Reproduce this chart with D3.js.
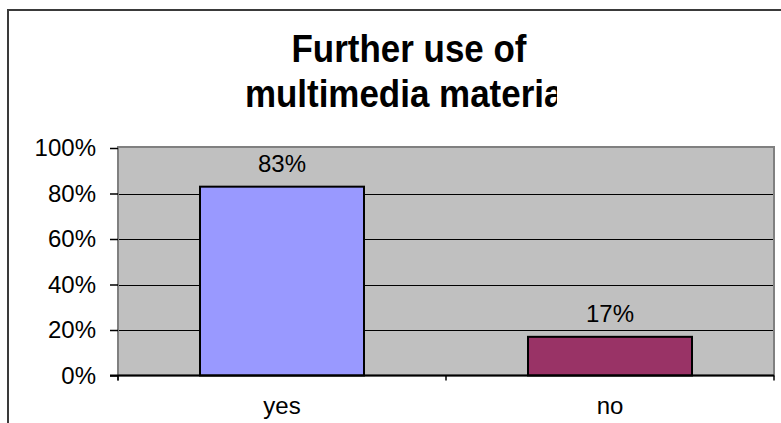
<!DOCTYPE html>
<html>
<head>
<meta charset="utf-8">
<script src="https://cdn.jsdelivr.net/npm/d3@7"></script>
<style>
  html, body { margin: 0; padding: 0; background: #fff; }
  svg { display: block; }
  text { font-family: "Liberation Sans", Arial, sans-serif; }
</style>
</head>
<body>
<svg id="chart" width="781" height="423"></svg>
<script>
// Survey answers: share of respondents per answer
const categories = ["yes", "no"];
const shares = [0.83, 0.17];
const barColors = ["#9999FF", "#993366"];
const yTicks = [0, 0.2, 0.4, 0.6, 0.8, 1.0];
const titleLines = ["Further use of", "multimedia material"];

const svg = d3.select("#chart");

// Chart frame (continues past the right and bottom edges)
svg.append("rect")
  .attr("x", 8).attr("y", 10)
  .attr("width", 820).attr("height", 440)
  .attr("fill", "#fff")
  .attr("stroke", "#3a3a3a")
  .attr("stroke-width", 2);

// Plot area bounds
const plot = { left: 118, right: 774, top: 148, bottom: 375.5 };

const x = d3.scaleBand()
  .domain(categories)
  .range([plot.left, plot.right])
  .paddingInner(0.5)
  .paddingOuter(0.25);

const y = d3.scaleLinear()
  .domain([0, 1])
  .range([plot.bottom, plot.top]);

// Title, clipped to its box; glyphs slightly narrowed
const titleCx = 409, squeeze = 0.92;
svg.append("clipPath").attr("id", "titleClip")
  .append("rect").attr("x", 150).attr("y", 20).attr("width", 407).attr("height", 110);

const title = svg.append("g")
  .attr("clip-path", "url(#titleClip)")
  .append("text")
  .attr("transform", `translate(${titleCx},0) scale(${squeeze},1)`)
  .attr("text-anchor", "middle")
  .attr("font-weight", "bold")
  .attr("font-size", 38)
  .attr("fill", "#000");
title.selectAll("tspan")
  .data(titleLines)
  .join("tspan")
  .attr("x", 0)
  .attr("y", (d, i) => 62 + i * 45)
  .text(d => d);

// Plot area background
svg.append("rect")
  .attr("x", plot.left).attr("y", plot.top - 1)
  .attr("width", plot.right - plot.left).attr("height", plot.bottom - plot.top + 1)
  .attr("fill", "#C0C0C0")
  .attr("stroke", "#808080")
  .attr("stroke-width", 2);

// Horizontal gridlines
svg.append("g")
  .selectAll("line")
  .data(yTicks.filter(t => t > 0 && t < 1))
  .join("line")
  .attr("x1", plot.left + 1).attr("x2", plot.right - 1)
  .attr("y1", d => Math.round(y(d)) + 0.5)
  .attr("y2", d => Math.round(y(d)) + 0.5)
  .attr("stroke", "#000")
  .attr("stroke-width", 1);

// Bars
svg.append("g")
  .selectAll("rect")
  .data(categories)
  .join("rect")
  .attr("x", d => x(d))
  .attr("y", (d, i) => y(shares[i]))
  .attr("width", x.bandwidth())
  .attr("height", (d, i) => y(0) - y(shares[i]))
  .attr("fill", (d, i) => barColors[i])
  .attr("stroke", "#000")
  .attr("stroke-width", 2);

// Value labels above bars
svg.append("g")
  .selectAll("text")
  .data(categories)
  .join("text")
  .attr("x", d => x(d) + x.bandwidth() / 2)
  .attr("y", (d, i) => y(shares[i]) - 15)
  .attr("text-anchor", "middle")
  .attr("font-size", 24)
  .attr("fill", "#000")
  .text((d, i) => d3.format(".0%")(shares[i]));

// Y axis
const yAxis = d3.axisLeft(y)
  .tickValues(yTicks)
  .tickFormat(d3.format(".0%"))
  .tickSize(8)
  .tickPadding(14);
const gy = svg.append("g")
  .attr("transform", `translate(${plot.left},0)`)
  .call(yAxis);
gy.select(".domain").attr("stroke", "#808080").attr("stroke-width", 2)
  .attr("d", `M0,${plot.top - 2}V${plot.bottom + 5}`);
gy.selectAll(".tick line").attr("stroke", "#000").attr("stroke-width", 1.5);
gy.selectAll(".tick text")
  .attr("font-family", "Liberation Sans, Arial, sans-serif")
  .attr("font-size", 24)
  .attr("fill", "#000");

// X axis
const xAxis = d3.axisBottom(x).tickSize(0).tickPadding(21);
const gx = svg.append("g")
  .attr("transform", `translate(0,${plot.bottom})`)
  .call(xAxis);
gx.select(".domain").attr("stroke", "#000").attr("stroke-width", 2)
  .attr("d", `M${plot.left - 8},0H${plot.right}`);
gx.selectAll(".tick text")
  .attr("font-family", "Liberation Sans, Arial, sans-serif")
  .attr("font-size", 24)
  .attr("fill", "#000");

// Category boundary tick marks
gx.append("g")
  .selectAll("line")
  .data([plot.left, (plot.left + plot.right) / 2, plot.right])
  .join("line")
  .attr("x1", d => d).attr("x2", d => d)
  .attr("y1", 0).attr("y2", 5)
  .attr("stroke", "#000")
  .attr("stroke-width", 1.5);
</script>
</body>
</html>
